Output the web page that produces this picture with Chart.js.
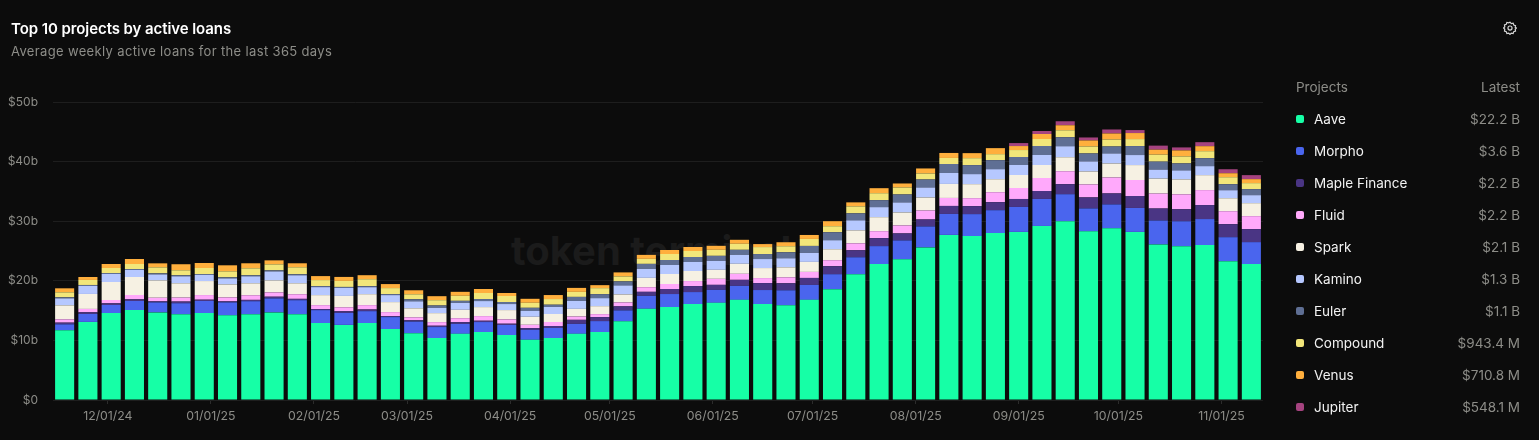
<!DOCTYPE html>
<html>
<head>
<meta charset="utf-8">
<title>Top 10 projects by active loans</title>
<script src="https://cdn.jsdelivr.net/npm/chart.js@4"></script>
<style>
    html, body { margin: 0; padding: 0; background: #0c0c0c; overflow: hidden; }
    body { width: 1539px; height: 440px; position: relative; font-family: Inter, sans-serif; }
    #title { position: absolute; left: 11px; top: 20px; font-size: 15px; line-height: 18px; font-weight: 600; color: #fff; letter-spacing: -0.08px; }
    #subtitle { position: absolute; left: 11px; top: 43px; font-size: 13px; line-height: 16px; color: #8d8d88; letter-spacing: 0.35px; }
    #gear { position: absolute; left: 1503px; top: 21px; }
    #watermark { position: absolute; left: 511px; top: 226px; font-size: 40px; line-height: 50px; font-weight: 700; color: #1b1b1b; white-space: nowrap; }
    #chart { position: absolute; left: 0; top: 0; }
    .legend-row { position: absolute; left: 1296px; width: 224px; height: 20px; line-height: 20px; font-size: 13.5px; }
    .legend-row .swatch { position: absolute; left: 0; top: 6px; width: 8px; height: 8px; border-radius: 2px; }
    .legend-row .name { position: absolute; left: 18px; color: #f2f2f2; }
    .legend-row .latest { position: absolute; right: 0; color: #8d8d88; }
    .legend-head .name { left: 0; color: #8d8d88; }
</style>
</head>
<body>
<div id="watermark">token terminal</div>
<canvas id="chart" width="1539" height="440"></canvas>
<div id="title">Top 10 projects by active loans</div>
<div id="subtitle">Average weekly active loans for the last 365 days</div>
<svg id="gear" width="14" height="14" viewBox="0 0 24 24" fill="none" stroke="#d8d8d8" stroke-width="2">
    <circle cx="12" cy="12" r="3.5"></circle>
    <path d="M12 2l2.2 2.4 3.2-.6 1 3.1 3.1 1-.6 3.2L23 12l-2.1 2.1.6 3.2-3.1 1-1 3.1-3.2-.6L12 23l-2.2-2.2-3.2.6-1-3.1-3.1-1 .6-3.2L1 12l2.1-2.1-.6-3.2 3.1-1 1-3.1 3.2.6z"></path>
</svg>
<div id="legend"></div>
<script>
// Weekly buckets (Mondays)
const weeks = [
    '2024-11-18', '2024-11-25', '2024-12-02', '2024-12-09', '2024-12-16', '2024-12-23', '2024-12-30',
    '2025-01-06', '2025-01-13', '2025-01-20', '2025-01-27', '2025-02-03', '2025-02-10', '2025-02-17',
    '2025-02-24', '2025-03-03', '2025-03-10', '2025-03-17', '2025-03-24', '2025-03-31', '2025-04-07',
    '2025-04-14', '2025-04-21', '2025-04-28', '2025-05-05', '2025-05-12', '2025-05-19', '2025-05-26',
    '2025-06-02', '2025-06-09', '2025-06-16', '2025-06-23', '2025-06-30', '2025-07-07', '2025-07-14',
    '2025-07-21', '2025-07-28', '2025-08-04', '2025-08-11', '2025-08-18', '2025-08-25', '2025-09-01',
    '2025-09-08', '2025-09-15', '2025-09-22', '2025-09-29', '2025-10-06', '2025-10-13', '2025-10-20',
    '2025-10-27', '2025-11-03', '2025-11-10'
];
const monthTicks = [
    '2024-12-01', '2025-01-01', '2025-02-01', '2025-03-01', '2025-04-01', '2025-05-01',
    '2025-06-01', '2025-07-01', '2025-08-01', '2025-09-01', '2025-10-01', '2025-11-01'
];
const yTicks = [0, 10, 20, 30, 40, 50];

// Values in $ billions
const aave = [11.7, 13.1, 14.6, 15.1, 14.7, 14.4, 14.6, 14.2, 14.4, 14.7, 14.4, 12.9, 12.6, 12.9, 11.9, 11.2, 10.4, 11.1, 11.4, 10.9, 10.1, 10.4, 11.1, 11.4, 13.2, 15.3, 15.6, 16.1, 16.3, 16.8, 16.1, 15.9, 16.8, 18.6, 21.1, 22.8, 23.6, 25.6, 27.7, 27.5, 28.0, 28.2, 29.2, 30.0, 28.3, 28.8, 28.2, 26.1, 25.8, 26.0, 23.3, 22.8];
const morpho = [1.0, 1.34, 1.34, 1.51, 1.68, 1.84, 2.01, 2.18, 2.18, 2.35, 2.35, 2.18, 2.01, 2.01, 2.01, 1.96, 1.84, 1.68, 1.68, 1.68, 1.68, 1.68, 1.68, 1.84, 1.84, 2.18, 2.18, 2.01, 2.18, 2.35, 2.35, 2.51, 2.51, 2.51, 2.85, 3.02, 3.18, 3.52, 3.52, 3.69, 3.85, 4.19, 4.53, 4.53, 3.85, 4.02, 4.02, 4.02, 4.19, 4.36, 4.02, 3.69];
const maple = [0.28, 0.28, 0.28, 0.28, 0.17, 0.28, 0.22, 0.17, 0.22, 0.28, 0.22, 0.17, 0.28, 0.28, 0.17, 0.22, 0.22, 0.28, 0.22, 0.22, 0.28, 0.34, 0.67, 0.67, 0.67, 0.67, 0.84, 1.01, 0.84, 1.01, 1.17, 1.17, 1.17, 1.34, 1.17, 1.34, 1.17, 1.17, 1.34, 1.34, 1.34, 1.34, 1.34, 1.68, 1.84, 1.84, 2.01, 2.01, 2.01, 2.35, 2.18, 2.18];
const fluid = [0.56, 0.56, 0.56, 0.73, 0.61, 0.67, 0.78, 0.67, 0.78, 0.73, 0.78, 0.67, 0.67, 0.73, 0.67, 0.5, 0.61, 0.67, 0.78, 0.73, 0.56, 0.67, 0.56, 0.5, 0.67, 0.78, 0.84, 0.84, 1.01, 1.01, 0.84, 1.01, 1.01, 1.01, 1.17, 1.17, 1.34, 1.51, 1.34, 1.34, 1.68, 1.84, 2.18, 2.18, 2.18, 2.68, 2.68, 2.51, 2.51, 2.51, 2.18, 2.18];
const spark = [2.35, 2.51, 3.02, 3.02, 2.91, 2.4, 2.35, 2.18, 2.01, 2.01, 1.84, 1.68, 1.9, 1.84, 1.68, 1.51, 1.51, 1.4, 1.51, 1.56, 1.34, 1.34, 1.28, 1.34, 1.34, 1.56, 1.68, 1.68, 1.51, 1.68, 1.68, 1.68, 1.68, 1.84, 2.18, 2.35, 2.18, 2.18, 2.35, 2.35, 2.18, 2.18, 2.18, 2.35, 2.18, 2.35, 2.51, 2.51, 2.51, 2.51, 2.18, 2.18];
const kamino = [1.17, 1.34, 1.34, 1.17, 1.01, 1.17, 1.01, 1.01, 1.17, 1.51, 1.34, 1.34, 1.34, 1.17, 1.17, 1.17, 0.89, 1.17, 1.01, 1.01, 1.01, 1.17, 1.34, 1.34, 1.51, 1.51, 1.51, 1.51, 1.51, 1.51, 1.51, 1.51, 1.51, 1.51, 1.68, 1.68, 1.68, 1.68, 1.84, 1.68, 1.68, 1.68, 1.68, 1.84, 1.68, 1.68, 1.68, 1.51, 1.51, 1.51, 1.34, 1.34];
const euler = [0.17, 0.17, 0.17, 0.17, 0.17, 0.17, 0.17, 0.17, 0.17, 0.17, 0.17, 0.17, 0.17, 0.17, 0.17, 0.34, 0.39, 0.34, 0.34, 0.34, 0.5, 0.39, 0.67, 0.67, 0.67, 0.84, 0.84, 0.84, 0.84, 0.84, 0.84, 1.01, 1.17, 1.34, 1.17, 1.17, 1.34, 1.34, 1.51, 1.51, 1.51, 1.34, 1.51, 1.51, 1.34, 1.17, 1.51, 1.34, 1.17, 1.34, 1.01, 1.01];
const compound = [0.84, 0.84, 0.84, 0.84, 1.01, 0.84, 1.01, 1.01, 1.17, 1.01, 1.17, 1.01, 1.01, 1.17, 1.01, 0.84, 0.89, 0.84, 1.01, 1.01, 0.84, 0.95, 0.84, 1.01, 0.84, 0.84, 1.01, 1.01, 1.01, 1.01, 1.17, 1.01, 1.17, 1.01, 1.17, 1.17, 1.17, 1.01, 1.01, 1.17, 1.01, 1.17, 1.17, 1.17, 1.17, 1.17, 1.17, 1.17, 1.17, 1.17, 1.17, 1.01];
const venus = [0.67, 0.5, 0.67, 0.84, 0.67, 1.01, 0.84, 1.01, 0.84, 0.67, 0.67, 0.67, 0.67, 0.67, 0.67, 0.67, 0.67, 0.67, 0.67, 0.5, 0.67, 0.67, 0.67, 0.5, 0.67, 0.67, 0.67, 0.67, 0.67, 0.67, 0.5, 0.67, 0.67, 0.84, 0.67, 0.84, 0.67, 0.84, 0.84, 0.84, 1.01, 0.67, 0.84, 0.84, 1.01, 1.01, 1.01, 0.84, 1.01, 0.84, 0.67, 0.67];
const jupiter = [0, 0, 0, 0, 0, 0, 0, 0, 0, 0, 0, 0, 0, 0, 0, 0, 0, 0, 0, 0, 0, 0, 0, 0, 0, 0, 0, 0, 0, 0, 0, 0, 0, 0, 0, 0, 0, 0, 0, 0, 0, 0.5, 0.5, 0.67, 0.5, 0.67, 0.5, 0.67, 0.5, 0.67, 0.67, 0.67];

const projects = ['Aave', 'Morpho', 'Maple Finance', 'Fluid', 'Spark', 'Kamino', 'Euler', 'Compound', 'Venus', 'Jupiter'];
const latest = ['$22.2 B', '$3.6 B', '$2.2 B', '$2.2 B', '$2.1 B', '$1.3 B', '$1.1 B', '$943.4 M', '$710.8 M', '$548.1 M'];
const colors = ['#16ffa6', '#4a65ee', '#4a3584', '#ffa9fb', '#f6f1e3', '#b6c8ff', '#5f6f94', '#f2e67a', '#ffaf3d', '#a5437f'];
const values = [aave, morpho, maple, fluid, spark, kamino, euler, compound, venus, jupiter];

const DAY = 86400000;

document.addEventListener('DOMContentLoaded', function() {
    buildLegend();
    initChart();
});

function toTime(str) {
    return Date.parse(str + 'T00:00:00Z');
}

function formatDate(ms) {
    const d = new Date(ms);
    const mm = String(d.getUTCMonth() + 1).padStart(2, '0');
    const yy = String(d.getUTCFullYear()).slice(2);
    return `${mm}/01/${yy}`;
}

function buildLegend() {
    const legend = document.getElementById('legend');
    let html = '<div class="legend-row legend-head" style="top:77px"><span class="name">Projects</span><span class="latest">Latest</span></div>';
    projects.forEach((name, i) => {
        html += `<div class="legend-row" style="top:${109 + i * 32}px">` +
            `<span class="swatch" style="background:${colors[i]}"></span>` +
            `<span class="name">${name}</span><span class="latest">${latest[i]}</span></div>`;
    });
    legend.innerHTML = html;
}

function initChart() {
    const ctx = document.getElementById('chart').getContext('2d');
    const times = weeks.map(toTime);

    const datasets = projects.map((name, i) => ({
        label: name,
        data: values[i].map((v, j) => ({ x: times[j], y: v })),
        backgroundColor: colors[i],
        borderWidth: 0,
        barPercentage: 0.82,
        categoryPercentage: 1
    }));

    new Chart(ctx, {
        type: 'bar',
        data: { datasets: datasets },
        options: {
            responsive: false,
            animation: false,
            devicePixelRatio: 1,
            layout: { padding: { top: 102, right: 276, left: 0, bottom: 0 } },
            plugins: { legend: { display: false }, tooltip: { enabled: false } },
            scales: {
                x: {
                    type: 'linear',
                    stacked: true,
                    offset: false,
                    min: times[0] - 3.5 * DAY,
                    max: times[times.length - 1] + 3.5 * DAY,
                    afterBuildTicks: function(scale) {
                        scale.ticks = monthTicks.map(m => ({ value: toTime(m) }));
                    },
                    afterFit: function(scale) { scale.height = 40; },
                    border: { display: false },
                    grid: { offset: false, drawOnChartArea: false, drawTicks: true, tickLength: 4, color: '#2c2c2c' },
                    ticks: {
                        autoSkip: false,
                        maxRotation: 0,
                        padding: 5,
                        color: '#8d8d88',
                        font: { family: 'Inter', size: 12.3 },
                        callback: function(value) { return formatDate(value); }
                    }
                },
                y: {
                    stacked: true,
                    min: 0,
                    max: 50,
                    afterBuildTicks: function(scale) {
                        scale.ticks = yTicks.map(v => ({ value: v }));
                    },
                    afterFit: function(scale) { scale.width = 53; },
                    border: { display: false },
                    grid: { color: '#1e1e1e', drawTicks: false },
                    ticks: {
                        padding: 15,
                        color: '#8d8d88',
                        font: { family: 'Inter', size: 12 },
                        callback: function(value) { return value === 0 ? '$0' : `$${value}b`; }
                    }
                }
            }
        }
    });
}
</script>
</body>
</html>
